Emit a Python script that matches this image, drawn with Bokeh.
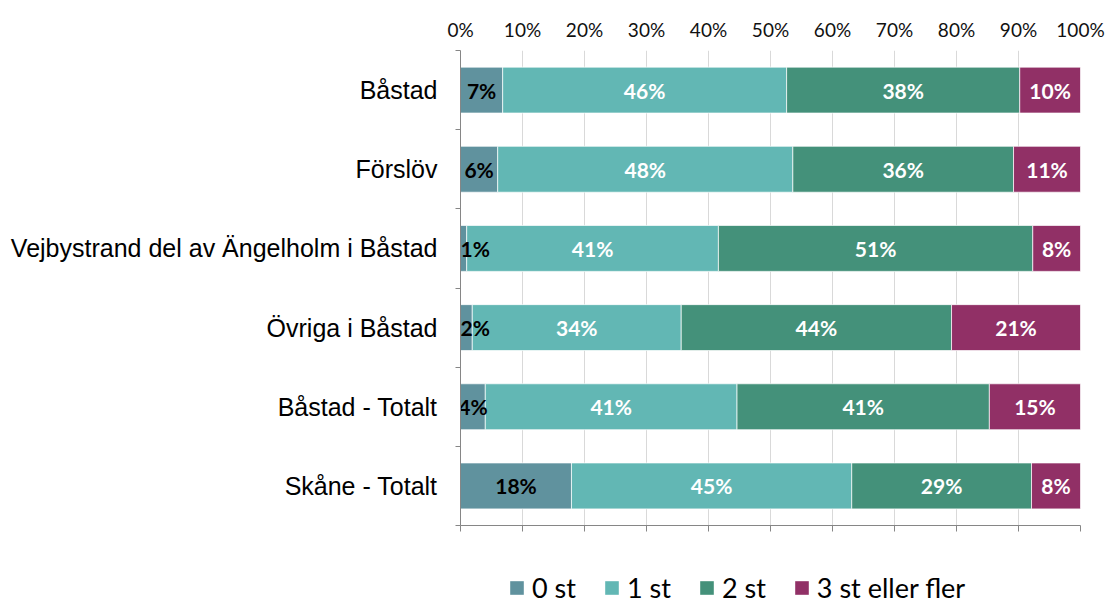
from bokeh.plotting import figure
from bokeh.layouts import column
from bokeh.models import (ColumnDataSource, LinearAxis, FixedTicker, Range1d,
                          Legend, LegendItem)
from bokeh.core.properties import value
from bokeh.embed import file_html
from bokeh.resources import INLINE

categories = ["Båstad", "Förslöv", "Vejbystrand del av Ängelholm i Båstad",
              "Övriga i Båstad", "Båstad - Totalt", "Skåne - Totalt"]
series = ["0 st", "1 st", "2 st", "3 st eller fler"]
st0 = [6.8, 6.0, 1.0, 1.9, 4.0, 17.9]
st1 = [45.8, 47.6, 40.6, 33.7, 40.6, 45.2]
st2 = [37.6, 35.6, 50.7, 43.6, 40.7, 29.0]
st3 = [9.8, 10.8, 7.7, 20.8, 14.7, 7.9]
x_ticks = [0, 10, 20, 30, 40, 50, 60, 70, 80, 90, 100]
x_tick_labels = ["0%", "10%", "20%", "30%", "40%", "50%", "60%", "70%", "80%", "90%", "100%"]

colors = ["#60929E", "#62B7B4", "#44917A", "#913066"]
label_colors = ["black", "white", "white", "white"]

n = len(categories)
ys = [n - i - 0.5 for i in range(n)]
values = [st0, st1, st2, st3]

data = {"y": ys, "cat": categories}
for s, v in zip(series, values):
    data[s] = v
source = ColumnDataSource(data)

p = figure(width=1110, height=545, x_range=Range1d(0, 100), y_range=Range1d(0, n),
           x_axis_location="above", output_backend="svg", toolbar_location=None,
           min_border_left=460, min_border_right=30, min_border_top=50,
           min_border_bottom=20, outline_line_color=None)

renderers = p.hbar_stack(series, y="y", height=0.58, color=colors, source=source,
                         line_color="white", line_alpha=0.7, line_width=1)

# data labels
lx, ly, lt, lc, la = [], [], [], [], []
for i in range(n):
    cum = 0.0
    for k, v in enumerate(values):
        val = v[i]
        if val < 3:
            lx.append(cum)
            la.append("left")
        else:
            lx.append(cum + val / 2)
            la.append("center")
        ly.append(ys[i])
        lt.append(f"{round(val)}%")
        lc.append(label_colors[k])
        cum += val
lsrc = ColumnDataSource(dict(x=lx, y=ly, t=lt, c=lc, a=la))
p.text(x="x", y="y", text="t", text_color="c", source=lsrc, text_align="a",
       text_baseline="middle", text_font=value("Lato"), text_font_style="bold",
       text_font_size="21px")

# top axis (labels)
top = p.xaxis[0]
top.ticker = FixedTicker(ticks=x_ticks)
top.major_label_overrides = {t: l for t, l in zip(x_ticks, x_tick_labels)}
top.axis_line_color = None
top.major_tick_line_color = None
top.minor_tick_line_color = None
top.major_tick_out = 0
top.major_tick_in = 0
top.major_label_standoff = 10
top.major_label_text_font = "Lato"
top.major_label_text_font_size = "19px"
top.major_label_text_color = "#111111"

# bottom axis (line + ticks only)
bottom = LinearAxis(ticker=FixedTicker(ticks=x_ticks), axis_line_color="#868686",
                    major_tick_line_color="#868686", major_tick_out=6, major_tick_in=0,
                    minor_tick_line_color=None,
                    major_label_overrides={t: "" for t in x_ticks},
                    major_label_text_font_size="8px",
                    major_label_standoff=0)
p.add_layout(bottom, "below")

# left axis
yax = p.yaxis[0]
yax.ticker = FixedTicker(ticks=ys, minor_ticks=list(range(n + 1)))
yax.major_label_overrides = {y: c for y, c in zip(ys, categories)}
yax.major_tick_line_color = None
yax.major_tick_out = 0
yax.major_tick_in = 0
yax.minor_tick_line_color = "#868686"
yax.minor_tick_out = 5
yax.minor_tick_in = 0
yax.axis_line_color = "#868686"
yax.major_label_standoff = 18
yax.major_label_text_font = "Liberation Sans"
yax.major_label_text_font_size = "25px"
yax.major_label_text_color = "black"

p.xgrid.ticker = FixedTicker(ticks=x_ticks)
p.xgrid.grid_line_color = "#D9D9D9"
p.ygrid.grid_line_color = None

# legend figure (legend proxies are zero-size boxes, never visible)
p2 = figure(width=1110, height=59, x_range=Range1d(0, 1), y_range=Range1d(0, 1),
            x_axis_type=None, y_axis_type=None, output_backend="svg",
            toolbar_location=None, min_border_left=460, min_border_right=30,
            min_border_top=0, min_border_bottom=0, outline_line_color=None)
p2.grid.visible = False
leg_renderers = [p2.hbar(y=[0.5], left=[0], right=[0], height=0, color=c, line_color=None)
                 for c in colors]
legend = Legend(items=[LegendItem(label=s, renderers=[r]) for s, r in zip(series, leg_renderers)],
                orientation="horizontal", location=(48, 0),
                label_text_font="Lato", label_text_font_size="27px",
                label_text_color="black",
                glyph_width=17, glyph_height=17, label_standoff=7, spacing=27,
                border_line_color=None, background_fill_alpha=0, padding=0, margin=0)
p2.add_layout(legend, "center")

layout = column(p, p2, spacing=0)
open("out.html", "w").write(file_html(layout, INLINE))
